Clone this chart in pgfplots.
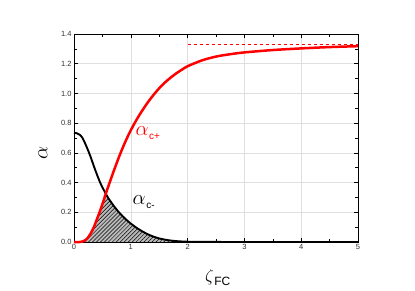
\documentclass[border=0pt]{standalone}
\usepackage{pgfplots}
\pgfplotsset{compat=1.18}
\usepackage{fontspec}
\setsansfont{Liberation Sans}
\usetikzlibrary{patterns.meta}
\pgfplotstableread{
x y
0 0
0.1 0.0
0.15 0.003
0.2 0.012
0.25 0.032
0.3 0.062
0.35 0.10
0.4 0.15
0.45 0.20
0.5 0.255
0.56 0.325
0.6 0.37
0.7 0.478
0.8 0.58
0.9 0.672
1.0 0.752
1.1 0.822
1.2 0.884
1.3 0.94
1.4 0.99
1.5 1.035
1.6 1.073
1.7 1.106
1.8 1.135
1.9 1.16
2.0 1.183
2.25 1.222
2.5 1.248
2.75 1.264
3.0 1.276
3.5 1.292
4.0 1.303
4.5 1.312
5.0 1.318
}\redtab
\pgfplotstableread{
x y
0 0.735
0.05 0.732
0.1 0.722
0.15 0.70
0.2 0.66
0.25 0.615
0.3 0.565
0.35 0.51
0.4 0.458
0.46 0.40
0.5 0.368
0.56 0.325
0.6 0.298
0.7 0.243
0.8 0.196
0.9 0.157
1.0 0.124
1.1 0.096
1.2 0.072
1.3 0.052
1.4 0.036
1.5 0.024
1.6 0.016
1.7 0.010
1.8 0.006
2.0 0.002
2.5 0.0005
3 0
5 0
}\blacktab
\pgfplotstableread{
x y
0.1 0
0.15 0.003
0.2 0.012
0.25 0.032
0.3 0.062
0.35 0.10
0.4 0.15
0.45 0.20
0.5 0.255
0.56 0.325
0.6 0.298
0.7 0.243
0.8 0.196
0.9 0.157
1.0 0.124
1.1 0.096
1.2 0.072
1.3 0.052
1.4 0.036
1.5 0.024
1.6 0.016
1.7 0.010
1.8 0.006
2.0 0.002
2.5 0
}\mintab
\begin{document}
\begin{tikzpicture}
\useasboundingbox (-74pt,-49pt) rectangle (341pt,242pt);
\begin{axis}[
  at={(0,0)}, anchor=south west,
  scale only axis, width=284pt, height=208pt,
  xmin=0, xmax=5, ymin=0, ymax=1.4,
  xtick={0,1,2,3,4,5}, ytick={0,0.2,0.4,0.6,0.8,1.0,1.2,1.4},
  minor xtick={0.5,1.5,2.5,3.5,4.5},
  minor ytick={0.1,0.3,0.5,0.7,0.9,1.1,1.3},
  yticklabel style={/pgf/number format/fixed, /pgf/number format/fixed zerofill, /pgf/number format/precision=1, xshift=1pt},
  /pgf/number format/assume math mode=true,
  tick label style={font=\sffamily\fontsize{7.5}{8}\selectfont, text=black!80},
  xticklabel style={yshift=1pt},
  tick align=inside,
  major tick length=4pt, minor tick length=3pt,
  every tick/.style={black, line width=0.6pt},
  xmajorgrids, ymajorgrids,
  grid style={gray!25, line width=0.5pt},
  axis line style={line width=0.9pt},
  clip=false,
]
\addplot[draw=none, fill=gray!55] table[x=x,y=y] {\mintab} \closedcycle;
\addplot[draw=none, pattern={Lines[angle=45,distance=2.8pt,line width=0.5pt]}] table[x=x,y=y] {\mintab} \closedcycle;
\addplot[red, line width=1.1pt, dash pattern=on 3.5pt off 2.5pt] coordinates {(2,1.33) (5,1.33)};
\addplot[black, line width=1.9pt, smooth] table[x=x,y=y] {\blacktab};
\addplot[red, line width=2.5pt, smooth] table[x=x,y=y] {\redtab};
\node[anchor=west, red, inner sep=0pt] at (axis cs:1.08,0.73) {\fontsize{20}{20}\selectfont$\alpha$\kern0.5pt\raisebox{-4pt}{\sffamily\fontsize{10}{10}\selectfont c+}};
\node[anchor=west, black, inner sep=0pt] at (axis cs:1.03,0.27) {\fontsize{20}{20}\selectfont$\alpha$\kern0.5pt\raisebox{-4pt}{\sffamily\fontsize{10}{10}\selectfont c-}};
\end{axis}
\node[rotate=90, inner sep=0pt] at (-31pt,89pt) {\fontsize{20}{20}\selectfont$\alpha$};
\node[anchor=base west, inner sep=0pt] at (131pt,-40pt) {\fontsize{19}{20}\selectfont$\zeta$\kern0.5pt\raisebox{-4pt}{\sffamily\fontsize{12}{12}\selectfont FC}};
\end{tikzpicture}
\end{document}
